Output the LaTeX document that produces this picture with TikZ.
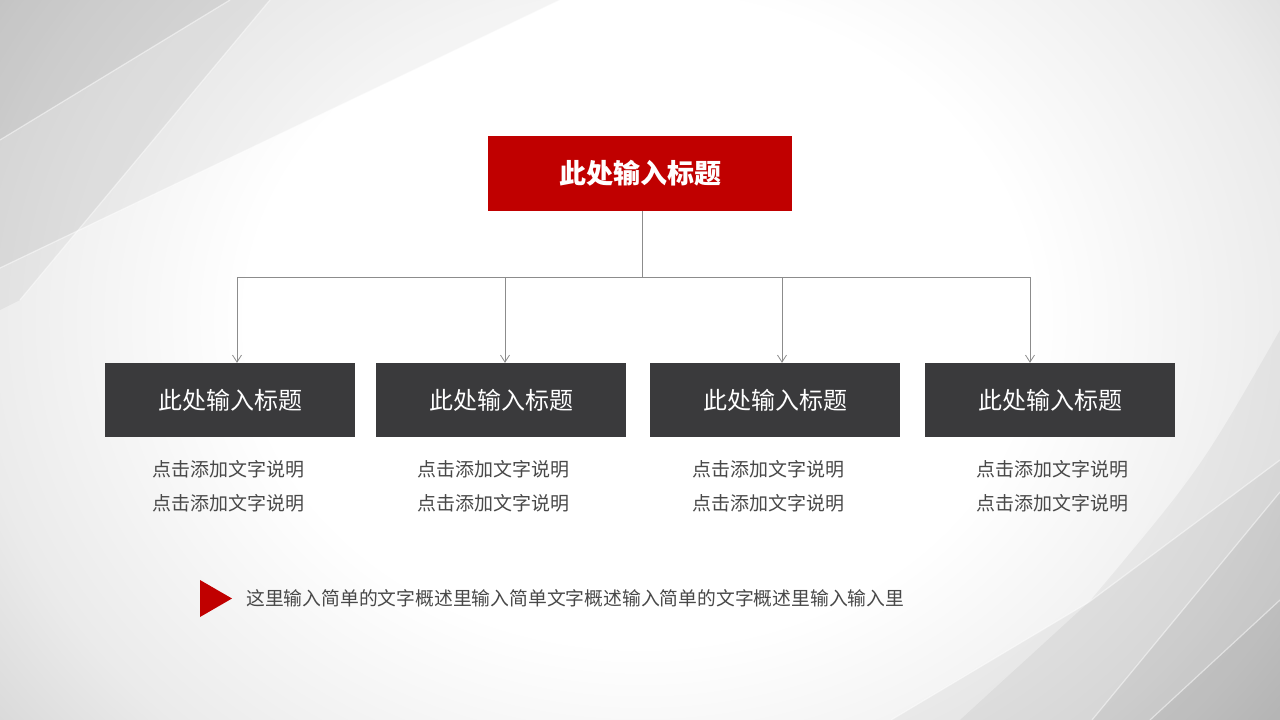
\documentclass[tikz,border=0pt]{standalone}
\usepackage{fontspec}
\newfontfamily\cjk{Noto Sans CJK SC}
\usetikzlibrary{arrows.meta,calc}
\definecolor{topred}{RGB}{192,0,0}
\definecolor{boxdark}{RGB}{58,58,60}
\definecolor{txtgray}{RGB}{72,72,72}
\definecolor{linegray}{RGB}{140,140,140}
\pgfdeclareradialshading{bgshade}{\pgfpoint{0bp}{0bp}}{color(0bp)=(white); color(14bp)=(white); color(24bp)=(black!8); color(34bp)=(black!22); color(50bp)=(black!28)}
\begin{document}
\begin{tikzpicture}[x=1pt,y=-1pt,
  redbox/.style={fill=topred, minimum width=304pt, minimum height=75pt, inner sep=0pt, text=white, font=\cjk\bfseries\fontsize{27}{27}\selectfont},
  darkbox/.style={fill=boxdark, minimum width=250pt, minimum height=74pt, inner sep=0pt, text=white, font=\cjk\fontsize{24}{24}\selectfont},
  desc/.style={inner sep=0pt, text=txtgray, font=\cjk\fontsize{19}{19}\selectfont},
  notetext/.style={inner sep=0pt, text=txtgray, font=\cjk\fontsize{18.8}{18.8}\selectfont},
  conn/.style={draw=linegray, line width=0.8pt},
  arr/.style={conn, -{Straight Barb[length=7pt,width=9pt]}},
  facet/.style={fill=black, opacity=0.045},
  edge/.style={draw=white, line width=1.2pt, opacity=0.5}
]
\useasboundingbox (0,0) rectangle (1280,720);
\begin{scope}
\clip (0,0) rectangle (1280,720);
\shade[shading=bgshade] (-60,-260) rectangle (1340,900);
% upper-left facets
\fill[facet] (0,0) -- (560,0) -- (0,268) -- cycle;
\fill[facet] (0,0) -- (230,0) -- (0,140) -- cycle;
\fill[facet] (0,0) -- (270,0) -- (20,300) -- (0,310) -- cycle;
\draw[edge] (0,140) -- (230,0);
\draw[edge] (0,268) -- (560,0);
\draw[edge] (20,300) -- (270,0);
% lower-right facets
\fill[facet] (1280,330) .. controls (1200,470) .. (1089,602) -- (891,720) -- (1280,720) -- cycle;
\fill[facet] (1280,492) -- (1092,720) -- (1280,720) -- cycle;
\fill[facet] (1280,600) -- (1150,720) -- (1280,720) -- cycle;
\fill[facet] (1280,460) -- (1089,602) -- (960,720) -- (1280,720) -- cycle;
\draw[edge] (1280,460) -- (1089,602) -- (891,720);
\draw[edge] (1280,492) -- (1092,720);
\draw[edge] (1280,600) -- (1150,720);
\end{scope}

% nodes
\node[redbox] (top) at (640,173) {此处输入标题};
\node[darkbox] (b1) at (230,400) {此处输入标题};
\node[darkbox] (b2) at (501,400) {此处输入标题};
\node[darkbox] (b3) at (775,400) {此处输入标题};
\node[darkbox] (b4) at (1050,400) {此处输入标题};

\node[desc] (d1a) at (228,469) {点击添加文字说明};
\node[desc] (d1b) at (228,503) {点击添加文字说明};
\node[desc] (d2a) at (493,469) {点击添加文字说明};
\node[desc] (d2b) at (493,503) {点击添加文字说明};
\node[desc] (d3a) at (768,469) {点击添加文字说明};
\node[desc] (d3b) at (768,503) {点击添加文字说明};
\node[desc] (d4a) at (1052,469) {点击添加文字说明};
\node[desc] (d4b) at (1052,503) {点击添加文字说明};

% connectors
\coordinate (hub) at (642,277);
\coordinate (j1) at (237,277);
\coordinate (j2) at (505,277);
\coordinate (j3) at (782,277);
\coordinate (j4) at (1030,277);
\draw[conn] (top.south -| hub) -- (hub);
\draw[conn] (j1) -- (j4);
\draw[arr] (j1) -- (j1 |- b1.north);
\draw[arr] (j2) -- (j2 |- b2.north);
\draw[arr] (j3) -- (j3 |- b3.north);
\draw[arr] (j4) -- (j4 |- b4.north);

% bottom note
\fill[topred] (200,580) -- (232,598.5) -- (200,617) -- cycle;
\node[notetext, anchor=west] (note) at (246,598) {这里输入简单的文字概述里输入简单文字概述输入简单的文字概述里输入输入里};
\end{tikzpicture}
\end{document}
